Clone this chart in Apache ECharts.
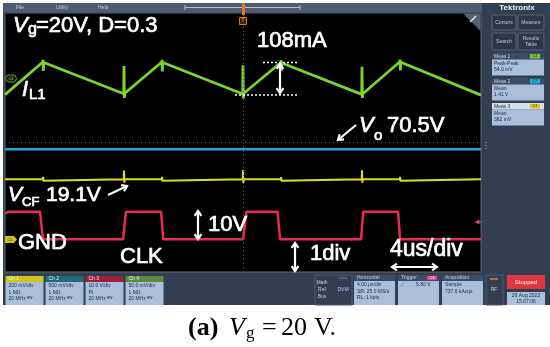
<!DOCTYPE html>
<html><head><meta charset="utf-8">
<script src="https://cdn.jsdelivr.net/npm/echarts@6/dist/echarts.min.js"></script>
<style>html,body{margin:0;padding:0;background:#fff}#c{width:550px;height:347px}</style>
</head><body><div id="c"></div>
<script>
// Horizontal: time in µs across the screen (10 div × 4 µs/div)
// Vertical: screen divisions, 0 = bottom of graticule, 10 = top
const timeRange = [0, 40];
const divRange = [0, 10];

// Ch4: inductor current I_L1 (green) [t µs, div]
const iL1 = [
  [0.0, 6.85], [3.18, 8.11], [3.2, 8.19], [3.22, 7.76], [3.26, 8.09],
  [9.98, 6.88], [10.0, 7.95], [10.03, 6.72], [10.07, 6.9],
  [13.18, 8.11], [13.2, 8.19], [13.22, 7.74], [13.26, 8.09],
  [19.98, 6.87], [20.0, 7.98], [20.03, 6.7], [20.07, 6.9],
  [23.18, 8.09], [23.2, 8.18], [23.22, 7.76], [23.26, 8.07],
  [29.98, 6.86], [30.0, 7.92], [30.03, 6.72], [30.07, 6.88],
  [33.18, 8.12], [33.2, 8.2], [33.22, 7.78], [33.26, 8.1],
  [40.0, 6.83]
];
// Ch2: output voltage Vo (cyan)
const vO = [[0, 4.74], [40, 4.74]];
// Ch1: flying capacitor voltage VCF (yellow)
const vCF = [
  [0, 3.58], [3.17, 3.58], [3.2, 3.67], [3.23, 3.52], [3.27, 3.58],
  [9.98, 3.58], [10.0, 3.92], [10.03, 3.45], [10.07, 3.58],
  [13.17, 3.58], [13.2, 3.67], [13.23, 3.52], [13.27, 3.58],
  [19.98, 3.58], [20.0, 3.94], [20.03, 3.44], [20.07, 3.58],
  [23.17, 3.58], [23.2, 3.66], [23.23, 3.52], [23.27, 3.58],
  [29.98, 3.58], [30.0, 3.93], [30.03, 3.45], [30.07, 3.58],
  [33.17, 3.58], [33.2, 3.67], [33.23, 3.52], [33.27, 3.58],
  [40, 3.58]
];
// Ch3: clock (red)
const clk = [
  [0, 2.25], [0.3, 2.33], [2.94, 2.33], [3.19, 1.26], [9.92, 1.26], [10.17, 2.33],
  [13.11, 2.33], [13.3, 1.26], [20.0, 1.26], [20.3, 2.33], [22.9, 2.33],
  [23.12, 1.26], [29.92, 1.26], [30.1, 2.33], [33.03, 2.33], [33.2, 1.26], [40, 1.26]
];

const chBoxes = [
  {name: 'Ch 1', head: '#d2c41c', lines: ['200 mV/div', '1 MΩ', '20 MHz ᴮᵂ']},
  {name: 'Ch 2', head: '#1d6b78', lines: ['500 mV/div', '1 MΩ', '20 MHz ᴮᵂ']},
  {name: 'Ch 3', head: '#9b1f3e', lines: ['10.0 V/div', 'Pt', '20 MHz ᴮᵂ']},
  {name: 'Ch 4', head: '#5e8a3c', lines: ['50.0 mV/div', '1 MΩ', '20 MHz ᴮᵂ']}
];
const measBoxes = [
  {name: 'Meas 1', badge: 'C4', badgeColor: '#7cc23a', lines: ['Peak-Peak', '54.0 mV']},
  {name: 'Meas 2', badge: 'C2', badgeColor: '#1ab0d8', lines: ['Mean', '1.41 V']},
  {name: 'Meas 3', badge: 'C1', badgeColor: '#d8c81c', lines: ['Mean', '382 mV'], sel: true}
];

const SANS = '"Liberation Sans", Arial, sans-serif';
const SERIF = '"Liberation Serif", "DejaVu Serif", serif';
const G = [];
function txt(x, y, text, font, fill, align, z, heavy) {
  const st = {text: text, font: font, fill: fill || '#fff', align: align || 'left', verticalAlign: 'middle'};
  if (heavy) { st.stroke = fill || '#fff'; st.lineWidth = 0.7; }
  G.push({type: 'text', x: x, y: y, z: z || 100, silent: true, style: st});
}
function ann(x, y, text, font) { txt(x, y, text, font, '#fff', 'left', 100, true); }
function rect(x, y, w, h, fill, stroke, z, r) {
  G.push({type: 'rect', z: z || 50, silent: true, shape: {x: x, y: y, width: w, height: h, r: r || 0},
    style: {fill: fill || 'none', stroke: stroke || null, lineWidth: 1}});
}
function line(x1, y1, x2, y2, stroke, w, dash, z) {
  G.push({type: 'line', z: z || 100, silent: true, shape: {x1: x1, y1: y1, x2: x2, y2: y2},
    style: {stroke: stroke, lineWidth: w || 1, lineDash: dash || null}});
}
function pline(pts, stroke, w, z) {
  G.push({type: 'polyline', z: z || 100, silent: true, shape: {points: pts},
    style: {stroke: stroke, lineWidth: w || 1, fill: 'none', lineJoin: 'miter'}});
}
function pgon(pts, fill, stroke, z) {
  G.push({type: 'polygon', z: z || 100, silent: true, shape: {points: pts},
    style: {fill: fill, stroke: stroke || null, lineWidth: 1}});
}
function head(tx, ty, fx, fy, len) {
  const dx = fx - tx, dy = fy - ty, L = Math.hypot(dx, dy);
  const ux = dx / L, uy = dy / L, a = 0.6;
  const c = Math.cos(a), s = Math.sin(a);
  const p1 = [tx + len * (ux * c - uy * s), ty + len * (uy * c + ux * s)];
  const p2 = [tx + len * (ux * c + uy * s), ty + len * (uy * c - ux * s)];
  pline([p1, [tx, ty], p2], '#fff', 2.2);
}
function arrow(x1, y1, x2, y2, both) {
  line(x1, y1, x2, y2, '#fff', 2.2);
  head(x2, y2, x1, y1, 6);
  if (both) head(x1, y1, x2, y2, 6);
}

// ---- instrument frame ----
rect(3, 3, 547, 302, '#323f52', null, -20);
rect(3, 3, 479, 9, '#4f5c70', null, -15);
rect(5, 13, 476, 259, '#000', '#55677f', -5);
txt(16, 7.5, 'File', '5px ' + SANS, '#c3cbd6');
txt(56, 7.5, 'Utility', '5px ' + SANS, '#c3cbd6');
txt(98, 7.5, 'Help', '5px ' + SANS, '#c3cbd6');
line(185, 7.5, 300, 7.5, '#b8c0cc', 1, null, 60);
line(185, 5, 185, 10, '#b8c0cc', 1, null, 60);
line(300, 5, 300, 10, '#b8c0cc', 1, null, 60);
// trigger marker
rect(242, 3, 3, 12, '#e07b1c', null, 60);
rect(239.5, 17.5, 7, 7, '#3a2410', '#e07b1c', 60);
txt(243, 21, 'T', 'bold 5px ' + SANS, '#e07b1c', 'center');
// top-right corner
pgon([[463, 13.5], [480.5, 13.5], [480.5, 31]], '#56616f', null, 60);
line(470, 22, 476, 16, '#dfe6ee', 1.5, null, 61);
// channel markers
pgon([[5, 78.5], [7.5, 75], [14.5, 75], [17, 78.5], [14.5, 82], [7.5, 82]], '#15240c', '#6b9a3a', 60);
txt(11, 78.5, 'C4', '4px ' + SANS, '#8fc45a', 'center', 61);
pgon([[5, 236], [14, 236], [17, 239.5], [14, 243], [5, 243]], '#cfc21c', null, 60);
txt(10, 239.5, 'C1', '4px ' + SANS, '#333', 'center', 61);
pgon([[474.5, 222], [479.5, 219.5], [479.5, 224.5]], '#e3457c', null, 60);
line(478, 222, 481, 222, '#e3457c', 1, null, 60);
[142, 145, 148].forEach(function (y) { rect(485.5, y, 1, 1, '#aab4c2', null, 60); });

// ---- right panel ----
txt(517, 7.5, 'Tektronix', 'bold 8px ' + SANS, '#f2f4f7', 'center');
[[492, 15, 24, 15, ['Cursors']], [518, 15, 26, 15, ['Measure']],
 [492, 33, 24, 17, ['Search']], [518, 33, 26, 17, ['Results', 'Table']]].forEach(function (b) {
  rect(b[0], b[1], b[2], b[3], '#2b3647', '#56677f', 55, 1);
  const cx = b[0] + b[2] / 2, cy = b[1] + b[3] / 2;
  if (b[4].length === 1) txt(cx, cy, b[4][0], '5px ' + SANS, '#bcc7d4', 'center');
  else { txt(cx, cy - 3, b[4][0], '5px ' + SANS, '#bcc7d4', 'center'); txt(cx, cy + 3, b[4][1], '5px ' + SANS, '#bcc7d4', 'center'); }
});
measBoxes.forEach(function (m, i) {
  const y0 = 53 + i * 25;
  rect(492, y0, 52, 6.5, m.sel ? '#d3dfec' : '#3b4c64', null, 55);
  txt(494, y0 + 3.3, m.name, '5px ' + SANS, m.sel ? '#1c2d45' : '#c8d2de');
  rect(530, y0 + 1, 10, 4.5, m.badgeColor, null, 56);
  txt(535, y0 + 3.3, m.badge, '4px ' + SANS, '#1c2d45', 'center');
  rect(492, y0 + 6.5, 52, 16, '#a9bfdb', null, 55);
  txt(494, y0 + 10.5, m.lines[0], '5px ' + SANS, '#1c2d45');
  txt(494, y0 + 17, m.lines[1], '5px ' + SANS, '#1c2d45');
});

// ---- bottom bar ----
chBoxes.forEach(function (c, i) {
  const x0 = 5.5 + i * 40;
  rect(x0, 276, 38, 6, c.head, null, 55);
  txt(x0 + 3, 279, c.name, '5px ' + SANS, '#f4f4f4');
  rect(x0, 282, 38, 23, '#a9bfdb', null, 55);
  c.lines.forEach(function (t, k) { txt(x0 + 3, 286 + k * 6.5, t, '5px ' + SANS, '#1c2d45'); });
});
rect(315, 275, 37, 30, null, '#4a5a70', 52);
txt(322, 283, 'Math', '5px ' + SANS, '#c3cbd6', 'center');
txt(322, 290, 'Ref', '5px ' + SANS, '#c3cbd6', 'center');
txt(322, 297, 'Bus', '5px ' + SANS, '#c3cbd6', 'center');
line(339, 278, 347, 278, '#7a8698', 1, null, 60);
txt(343, 290, 'DVM', '5px ' + SANS, '#c3cbd6', 'center');
[[354, 'Horizontal', ['4.00 µs/div', 'SR: 25.0 MS/s', 'RL: 1 kpts']],
 [398, 'Trigger', ['⟋        5.80 V']],
 [442, 'Acquisition', ['Sample', '737.6 kAcqs']]].forEach(function (b) {
  rect(b[0], 275, 41, 6, '#3b4c64', null, 55);
  txt(b[0] + 3, 278, b[1], '5px ' + SANS, '#c8d2de');
  rect(b[0], 281, 41, 24, '#a9bfdb', null, 55);
  b[2].forEach(function (t, k) { txt(b[0] + 3, 285 + k * 6.5, t, '5px ' + SANS, '#1c2d45'); });
});
rect(427, 276, 10, 4, '#e3457c', null, 56);
txt(432, 278, 'C3', '4px ' + SANS, '#fff', 'center');
rect(486, 275, 17, 30, null, '#4a5a70', 52);
line(490, 279, 498, 279, '#e07b1c', 1.5, null, 60);
txt(494, 290, 'RF', '5px ' + SANS, '#c3cbd6', 'center');
rect(507, 275, 38, 14, '#e3353d', null, 55);
txt(526, 282, 'Stopped', '6px ' + SANS, '#fff', 'center');
rect(507, 292, 38, 13, '#a9bfdb', null, 55);
txt(526, 295.5, '29 Aug 2022', '5px ' + SANS, '#1c2d45', 'center');
txt(526, 301.5, '15:07:06', '5px ' + SANS, '#1c2d45', 'center');

// ---- annotations ----
ann(13, 25.5, 'V', 'italic 22px ' + SANS);
ann(28, 30, 'g', '16px ' + SANS);
ann(36, 25.5, '=20V, D=0.3', '22px ' + SANS);
ann(257, 40.5, '108mA', '22px ' + SANS);
line(263, 62.5, 298, 62.5, '#fff', 1.5, [2, 2]);
line(235, 95, 297, 95, '#fff', 1.5, [2, 2]);
arrow(280, 64, 280, 93, true);
ann(22, 89.5, 'I', 'italic 22px ' + SANS);
ann(29, 95, 'L1', '15px ' + SANS);
arrow(356, 125, 338, 140, false);
ann(359, 125.5, 'V', 'italic 22px ' + SANS);
ann(374, 136, 'o', '15px ' + SANS);
ann(387, 125.5, '70.5V', '22px ' + SANS);
ann(8, 195.5, 'V', 'italic 21px ' + SANS);
ann(22, 202.5, 'CF', '13px ' + SANS);
ann(46, 195.5, '19.1V', '21px ' + SANS);
arrow(108, 195, 127, 186, false);
ann(18, 242.5, 'GND', '22px ' + SANS);
ann(120, 257, 'CLK', '22px ' + SANS);
arrow(198, 211, 198, 239, true);
ann(208, 225, '10V', '22px ' + SANS);
arrow(295, 243, 295, 271, true);
ann(310, 254, '1div', '22px ' + SANS);
ann(390, 249.5, '4us/div', '23px ' + SANS);
arrow(392, 267, 437, 267, true);

// ---- caption ----
txt(188, 328.5, '(a)', 'bold 26px ' + SERIF, '#000');
txt(229, 328.5, 'V', 'italic 26px ' + SERIF, '#000');
txt(246, 334, 'g', '17px ' + SERIF, '#000');
txt(262, 328.5, '=', '26px ' + SERIF, '#000');
txt(281, 328.5, '20', '26px ' + SERIF, '#000');
txt(314, 328.5, 'V.', '26px ' + SERIF, '#000');

const chart = echarts.init(document.getElementById('c'), null, {renderer: 'canvas'});
function wave(data, color, width, extra) {
  return Object.assign({type: 'line', data: data, showSymbol: false, symbol: 'none',
    lineStyle: {color: color, width: width}, itemStyle: {color: color}, animation: false, silent: true}, extra || {});
}
chart.setOption({
  backgroundColor: '#fff',
  animation: false,
  grid: {left: 5, top: 13, right: 69, bottom: 75, show: false},
  xAxis: {type: 'value', min: timeRange[0], max: timeRange[1], show: false},
  yAxis: {type: 'value', min: divRange[0], max: divRange[1], show: false},
  series: [
    wave(clk, '#ea2a53', 2.5, {markLine: {silent: true, symbol: 'none', label: {show: false},
      lineStyle: {color: '#5a5f66', type: [1, 3], width: 1}, data: [{xAxis: 20}, {yAxis: 5}]}}),
    wave(vCF, '#e3dc1f', 2),
    wave(vO, '#1fa7da', 2.5),
    wave(iL1, '#7ad42b', 2.8)
  ],
  graphic: G
});
</script></body></html>
